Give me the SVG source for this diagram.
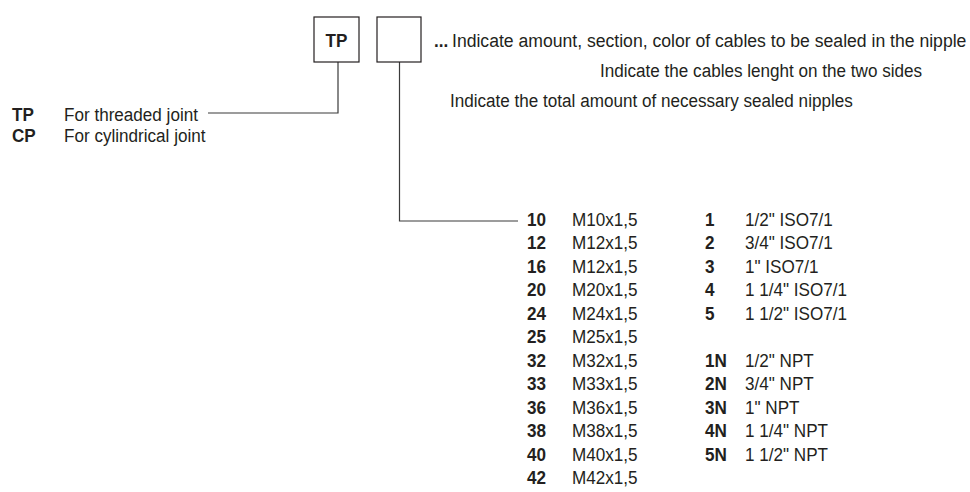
<svg xmlns="http://www.w3.org/2000/svg" width="970" height="492" viewBox="0 0 970 492">
<style>
text{font-family:"Liberation Sans",Arial,sans-serif;fill:#231f20;font-size:19px}
.b{font-weight:bold}
.box{fill:#fff;stroke:#231f20;stroke-width:1.2}
.ln{fill:none;stroke:#3a3a3a;stroke-width:1.2}
</style>
<rect width="970" height="492" fill="#fff"/>
<g id="connectors">
<polyline class="ln" points="338,62 338,113 208,113"/>
<polyline class="ln" points="399.5,62 399.5,221 518,221"/>
</g>
<g id="box-tp">
<rect class="box" x="314" y="17" width="45" height="45"/>
<g transform="translate(336.5,0) scale(0.9,1)"><text class="b" x="0" y="47" text-anchor="middle">TP</text></g>
</g>
<g id="box-2">
<rect class="box" x="377" y="17" width="44" height="45"/>
</g>
<g id="notes">
<g transform="translate(434,0) scale(0.9,1)"><text class="b" x="0" y="47">...</text></g>
<g transform="translate(452,0) scale(0.927,1)"><text x="0" y="47">Indicate amount, section, color of cables to be sealed in the nipple</text></g>
<g transform="translate(600,0) scale(0.9,1)"><text x="0" y="77">Indicate the cables lenght on the two sides</text></g>
<g transform="translate(450,0) scale(0.9,1)"><text x="0" y="107">Indicate the total amount of necessary sealed nipples</text></g>
</g>
<g id="joint-types">
<g transform="translate(12,0) scale(0.9,1)">
<text class="b" x="0" y="121">TP</text>
<text class="b" x="0" y="142">CP</text>
</g>
<g transform="translate(64,0) scale(0.9,1)">
<text x="0" y="121">For threaded joint</text>
<text x="0" y="142">For cylindrical joint</text>
</g>
</g>
<g id="metric">
<g transform="translate(527,0) scale(0.9,1)">
<text class="b" y="226">10</text>
<text class="b" y="249.5">12</text>
<text class="b" y="273">16</text>
<text class="b" y="296.5">20</text>
<text class="b" y="320">24</text>
<text class="b" y="343.5">25</text>
<text class="b" y="367">32</text>
<text class="b" y="390.5">33</text>
<text class="b" y="414">36</text>
<text class="b" y="437.5">38</text>
<text class="b" y="461">40</text>
<text class="b" y="484.5">42</text>
</g>
<g transform="translate(572,0) scale(0.9,1)">
<text y="226">M10x1,5</text>
<text y="249.5">M12x1,5</text>
<text y="273">M12x1,5</text>
<text y="296.5">M20x1,5</text>
<text y="320">M24x1,5</text>
<text y="343.5">M25x1,5</text>
<text y="367">M32x1,5</text>
<text y="390.5">M33x1,5</text>
<text y="414">M36x1,5</text>
<text y="437.5">M38x1,5</text>
<text y="461">M40x1,5</text>
<text y="484.5">M42x1,5</text>
</g>
</g>
<g id="gas">
<g transform="translate(705,0) scale(0.9,1)">
<text class="b" y="226">1</text>
<text class="b" y="249.5">2</text>
<text class="b" y="273">3</text>
<text class="b" y="296.5">4</text>
<text class="b" y="320">5</text>
<text class="b" y="367">1N</text>
<text class="b" y="390.5">2N</text>
<text class="b" y="414">3N</text>
<text class="b" y="437.5">4N</text>
<text class="b" y="461">5N</text>
</g>
<g transform="translate(745,0) scale(0.9,1)">
<text y="226">1/2" ISO7/1</text>
<text y="249.5">3/4" ISO7/1</text>
<text y="273">1" ISO7/1</text>
<text y="296.5">1 1/4" ISO7/1</text>
<text y="320">1 1/2" ISO7/1</text>
<text y="367">1/2" NPT</text>
<text y="390.5">3/4" NPT</text>
<text y="414">1" NPT</text>
<text y="437.5">1 1/4" NPT</text>
<text y="461">1 1/2" NPT</text>
</g>
</g>
</svg>
